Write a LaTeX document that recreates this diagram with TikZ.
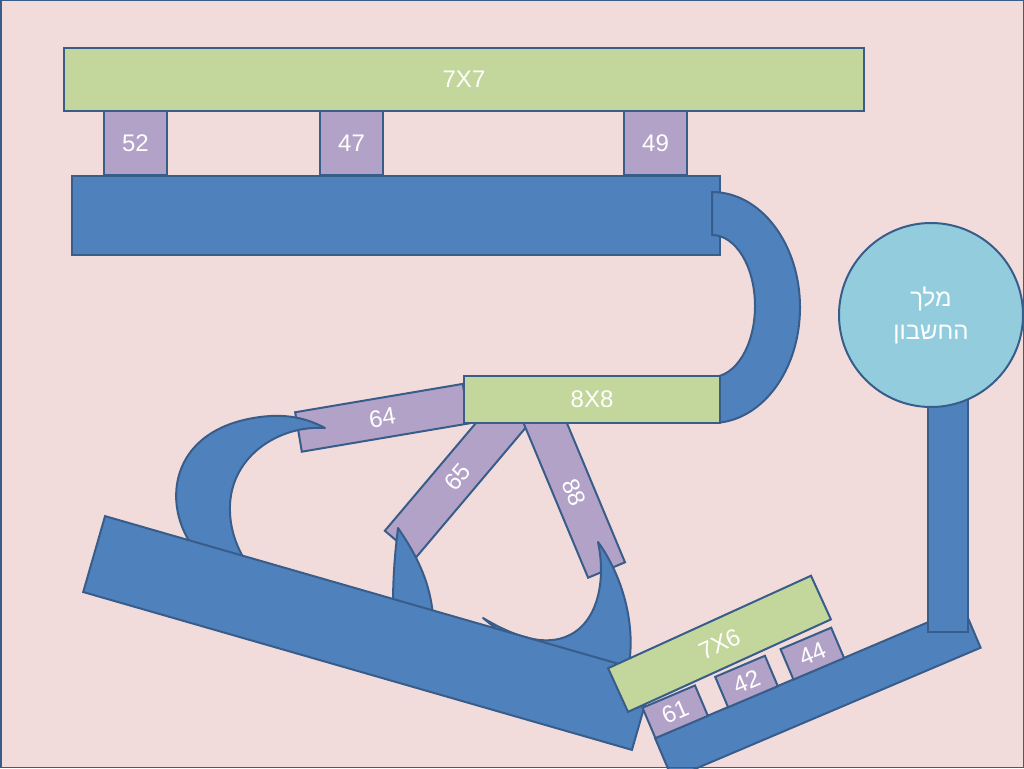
\documentclass[tikz,border=0pt]{standalone}
\usepackage{fontspec}
\setmainfont{Liberation Sans}
\newfontfamily\hebfont[Script=Hebrew]{Liberation Sans}
\TeXXeTstate=1
\usepackage{tikz}
\usetikzlibrary{positioning}
\definecolor{wall}{HTML}{F2DCDB}
\definecolor{edge}{HTML}{385D8A}
\definecolor{barblue}{HTML}{4F81BD}
\definecolor{plategreen}{HTML}{C3D69B}
\definecolor{pegpurple}{HTML}{B3A2C7}
\definecolor{kingblue}{HTML}{93CDDD}
\tikzstyle{bar} = [draw=edge, fill=barblue, line width=2pt, rectangle, inner sep=0pt]
\tikzstyle{plate} = [draw=edge, fill=plategreen, line width=2pt, rectangle, inner sep=0pt, text=white, font=\fontsize{24}{28}\selectfont]
\tikzstyle{peg} = [draw=edge, fill=pegpurple, line width=2pt, rectangle, inner sep=0pt, text=white, font=\fontsize{24}{28}\selectfont]
\tikzstyle{hook} = [draw=edge, fill=barblue, line width=2pt, line join=round]
\tikzstyle{king} = [draw=edge, fill=kingblue, line width=2pt, circle, inner sep=0pt, text=white, align=center, font=\hebfont\fontsize{24}{33}\selectfont]

\begin{document}
\begin{tikzpicture}[x=1pt, y=-1pt]%[auto, node distance=2cm]
    \useasboundingbox (0,0) rectangle (1024,768);
    \fill [wall] (0,0) rectangle (1024,768);

    % top shelf
    \node [bar, minimum width=648pt, minimum height=79pt] (shelf) at (396,215.5) {};
    \node [peg, minimum width=63pt, minimum height=64pt] (p52) at (135.5,143) {52};
    \node [peg, minimum width=63pt, minimum height=64pt] (p47) at (351.5,143) {47};
    \node [peg, minimum width=63pt, minimum height=64pt] (p49) at (655.5,143) {49};
    \node [plate, minimum width=800pt, minimum height=63pt] (t77) at (464,79.5) {7X7};

    \draw [hook] (712,192) arc [start angle=-90, end angle=90, x radius=88, y radius=115.5]
        -- (712,377) arc [start angle=90, end angle=-90, x radius=43, y radius=71] -- cycle;

    % middle
    \node [peg, rotate=9.6, minimum width=170pt, minimum height=40pt] (p64) at (382.3,417.8) {64};
    \node [peg, rotate=49.8, minimum width=176pt, minimum height=41pt] (p65) at (457.3,476.8) {65};
    \node [peg, rotate=-67.35, minimum width=168pt, minimum height=40pt] (p88) at (574.2,492.5) {88};
    \node [plate, minimum width=256pt, minimum height=47pt] (t88) at (592,399.5) {8X8};

    \draw [hook] (205,560) .. controls (160,520) and (160,430) .. (260,417)
        .. controls (290,413) and (310,420) .. (325,428)
        .. controls (280,425) and (232,455) .. (230,505)
        .. controls (229,530) and (238,550) .. (248,565) -- cycle;
    \draw [hook] (393,605) .. controls (393,570) and (396,545) .. (398,528)
        .. controls (420,560) and (430,585) .. (433,615) -- cycle;
    \draw [hook] (598,542) .. controls (622,575) and (637,625) .. (628,670)
        -- (510,640) -- (483,618)
        .. controls (520,640) and (555,650) .. (580,628)
        .. controls (600,610) and (605,575) .. (598,542) -- cycle;

    \node [bar, rotate=-16.05, minimum width=571pt, minimum height=79pt] (slope) at (368.5,633) {};

    % bottom right
    \node [bar, rotate=23, minimum width=335pt, minimum height=44pt] (ramp) at (817.8,692.9) {};
    \node [peg, rotate=23, minimum width=57pt, minimum height=33pt] (p61) at (675.2,711.8) {61};
    \node [peg, rotate=23, minimum width=54pt, minimum height=33pt] (p42) at (746.5,681.5) {42};
    \node [peg, rotate=23, minimum width=55pt, minimum height=33pt] (p44) at (812.3,653.6) {44};
    \node [plate, rotate=24.5, minimum width=223pt, minimum height=48pt] (t76) at (719.5,643.8) {7X6};

    \node [bar, minimum width=40pt, minimum height=240pt] (stem) at (948,512) {};
    \node [king, minimum size=184pt] (king) at (931,315) {\beginR מלך\endR\\\beginR החשבון\endR};

    \draw [edge, line width=1.5pt] (0.75,0.75) rectangle (1023.25,767.25);
\end{tikzpicture}
\end{document}
